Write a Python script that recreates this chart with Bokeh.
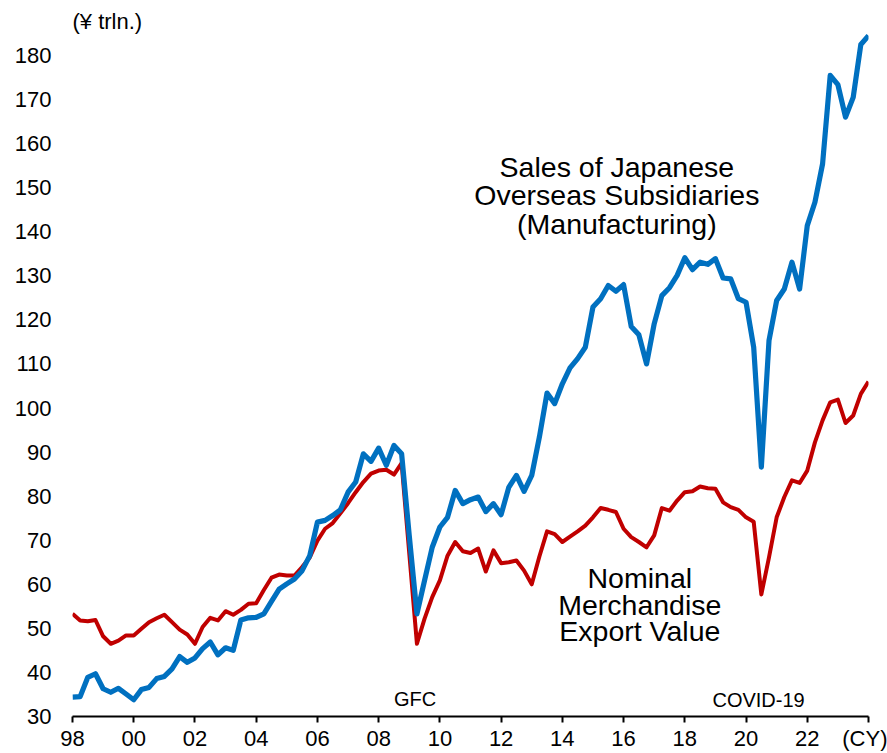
from bokeh.plotting import figure
from bokeh.models import Range1d, FixedTicker, Label
from bokeh.embed import file_html
from bokeh.resources import INLINE

# Quarterly values, ¥ trillion (annualized), first point plotted at 1998.0
overseas_sales = [
    34.4, 34.5, 38.9, 39.7, 36.3, 35.5, 36.4, 35.1,
    33.8, 36.1, 36.6, 38.6, 39.1, 40.8, 43.6, 42.3,
    43.3, 45.4, 46.9, 44.0, 45.6, 45.0, 51.9, 52.4,
    52.5, 53.3, 56.1, 58.9, 60.1, 61.2, 63.1, 66.5,
    74.1, 74.5, 75.6, 76.9, 80.9, 83.2, 89.6, 87.9,
    90.9, 87.0, 91.5, 89.6, 71.0, 53.3, 60.9, 68.4,
    73.0, 75.2, 81.3, 78.3, 79.2, 79.8, 76.5, 78.3,
    75.8, 82.0, 84.7, 81.1, 84.7, 93.4, 103.4, 101.0,
    105.5, 109.1, 111.2, 113.8, 122.9, 124.8, 127.8, 126.5,
    128.0, 118.5, 116.6, 110.0, 119.1, 125.5, 127.3, 130.1,
    134.1, 131.4, 133.1, 132.6, 133.9, 129.5, 129.3, 124.8,
    124.0, 113.8, 86.6, 115.3, 124.4, 127.0, 133.1, 127.0,
    141.4, 146.7, 155.4, 175.5, 173.4, 166.0, 170.5, 182.5,
    184.5,
]
export_value = [
    53.3, 51.8, 51.6, 51.9, 48.2, 46.5, 47.2, 48.4,
    48.4, 49.9, 51.4, 52.3, 53.1, 51.4, 49.7, 48.6,
    46.5, 50.3, 52.4, 51.8, 53.9, 53.1, 54.2, 55.6,
    55.7, 58.7, 61.5, 62.2, 62.0, 62.0, 63.9, 66.1,
    69.9, 72.6, 73.9, 76.1, 78.4, 80.9, 83.2, 85.1,
    85.8, 86.0, 84.9, 87.5, 67.0, 46.5, 52.2, 57.1,
    60.9, 66.5, 69.6, 67.5, 67.1, 68.1, 62.9, 67.7,
    64.8, 65.0, 65.4, 63.1, 60.0, 66.3, 72.0, 71.4,
    69.6, 70.8, 72.0, 73.3, 75.2, 77.3, 76.9, 76.4,
    72.6, 70.7, 69.6, 68.4, 71.1, 77.3, 76.7, 79.0,
    80.9, 81.1, 82.2, 81.8, 81.7, 78.6, 77.5, 76.9,
    75.2, 74.2, 57.7, 66.1, 75.2, 79.8, 83.6, 83.0,
    85.8, 92.2, 97.2, 101.3, 101.9, 96.6, 98.3, 103.2,
    106.0,
]
start_year = 1998.0
x_ticks = list(range(1998, 2025, 2))
x_tick_labels = ["98", "00", "02", "04", "06", "08", "10", "12",
                 "14", "16", "18", "20", "22", "(CY)"]
y_ticks = list(range(30, 181, 10))

qx = [start_year + i * 0.25 for i in range(len(overseas_sales))]

FONT = "Liberation Sans"
BLUE = "#0070C0"
RED = "#C00000"

p = figure(width=887, height=753, output_backend="svg", toolbar_location=None,
           x_range=Range1d(1998, 2024), y_range=Range1d(30, 189.75),
           min_border_left=72, min_border_right=19, min_border_top=12,
           min_border_bottom=37)
p.outline_line_color = None
p.grid.visible = False
p.background_fill_color = "white"

p.line(qx, export_value, line_color=RED, line_width=4, line_join="round")
p.line(qx, overseas_sales, line_color=BLUE, line_width=5.2, line_join="round")

xa = p.xaxis[0]
xa.ticker = FixedTicker(ticks=x_ticks)
xa.major_label_overrides = {t: l for t, l in zip(x_ticks, x_tick_labels)}
xa.axis_line_color = "black"
xa.axis_line_width = 2
xa.major_tick_line_color = "black"
xa.major_tick_line_width = 2
xa.major_tick_in = 0
xa.major_tick_out = 6
xa.minor_tick_line_color = None
xa.major_label_standoff = 3
xa.major_label_text_font = FONT
xa.major_label_text_font_size = "22px"
xa.major_label_text_color = "black"

ya = p.yaxis[0]
ya.ticker = FixedTicker(ticks=y_ticks)
ya.axis_line_color = None
ya.major_tick_line_color = None
ya.minor_tick_line_color = None
ya.major_tick_in = 0
ya.major_tick_out = 0
ya.major_label_standoff = 21
ya.major_label_text_font = FONT
ya.major_label_text_font_size = "22px"
ya.major_label_text_color = "black"


def add_label(x, y, text, size, align="center"):
    p.add_layout(Label(x=x, y=y, text=text, text_font=FONT, text_font_size=size,
                       text_align=align, text_baseline="alphabetic",
                       text_color="black"))


add_label(1998.0, 187.7, "(¥ trln.)", "22px", "left")

for txt, yy in zip(["Sales of Japanese", "Overseas Subsidiaries", "(Manufacturing)"],
                   [154.8, 148.4, 141.8]):
    add_label(2015.78, yy, txt, "28.5px")

for txt, yy in zip(["Nominal", "Merchandise", "Export Value"], [61.5, 55.4, 49.3]):
    add_label(2016.53, yy, txt, "28.5px")

add_label(2009.19, 34.0, "GFC", "20px")
add_label(2020.41, 33.8, "COVID-19", "20px")

open("out.html", "w").write(file_html(p, INLINE))
